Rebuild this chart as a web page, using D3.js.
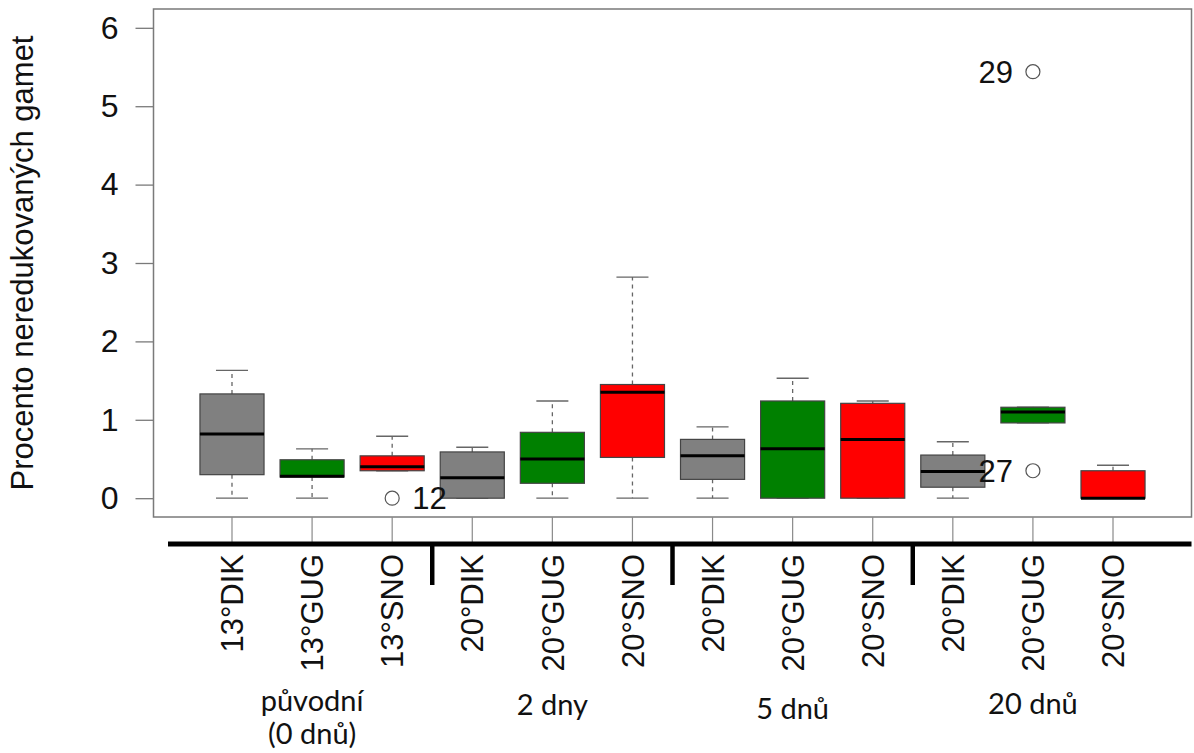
<!DOCTYPE html>
<html>
<head>
<meta charset="utf-8">
<script src="https://cdn.jsdelivr.net/npm/d3@7"></script>
<style>
  html, body { margin: 0; padding: 0; background: #fff; }
  svg { display: block; }
</style>
</head>
<body>
<svg id="chart" width="1194" height="753"></svg>
<script>
// Categories (temperature + population) and their box colours
const categories = ["13°DIK", "13°GUG", "13°SNO", "20°DIK", "20°GUG", "20°SNO",
                    "20°DIK", "20°GUG", "20°SNO", "20°DIK", "20°GUG", "20°SNO"];
const boxColors = ["#808080", "#008000", "#ff0000", "#808080", "#008000", "#ff0000",
                   "#808080", "#008000", "#ff0000", "#808080", "#008000", "#ff0000"];

// Five-number summaries per category (percent of unreduced gametes)
const whiskerLow  = [0.00, 0.00, 0.35, 0.00, 0.00, 0.00, 0.00, 0.00, 0.00, 0.00, 0.96, 0.00];
const quartile1   = [0.30, 0.27, 0.35, 0.00, 0.19, 0.52, 0.24, 0.00, 0.00, 0.14, 0.96, 0.00];
const medians     = [0.82, 0.28, 0.40, 0.26, 0.50, 1.35, 0.54, 0.63, 0.75, 0.34, 1.10, 0.00];
const quartile3   = [1.33, 0.49, 0.54, 0.59, 0.84, 1.45, 0.75, 1.24, 1.21, 0.55, 1.16, 0.35];
const whiskerHigh = [1.63, 0.63, 0.79, 0.65, 1.24, 2.82, 0.91, 1.53, 1.24, 0.72, 1.16, 0.42];

// Outliers: category index (1-based), value, label and label side
const outlierBox   = [3, 11, 11];
const outlierValue = [0.00, 0.35, 5.44];
const outlierLabel = ["12", "27", "29"];
const outlierSide  = ["right", "left", "left"];

// Axis ticks and group captions
const yTicks = [0, 1, 2, 3, 4, 5, 6];
const groupLabels = [["původní", "(0 dnů)"], ["2 dny"], ["5 dnů"], ["20 dnů"]];
const groupCenters = [2, 5, 8, 11];
const groupBaselines = [711, 715, 719, 714];
const groupSeparators = [3.5, 6.5, 9.5];

const svg = d3.select("#chart");

const x = d3.scaleLinear().domain([0.02, 12.98]).range([153.5, 1191.5]);
const y = d3.scaleLinear().domain([-0.24, 6.24]).range([517, 9]);

const boxHalf = 0.4;   // box half-width in category units
const capHalf = 0.2;   // whisker cap half-width

const axisFont = "'Liberation Sans', Arial, Helvetica, sans-serif";

// Plot frame
svg.append("rect")
  .attr("x", x.range()[0]).attr("y", y.range()[1])
  .attr("width", x.range()[1] - x.range()[0])
  .attr("height", y.range()[0] - y.range()[1])
  .attr("fill", "none").attr("stroke", "#7a7a7a").attr("stroke-width", 1.5);

// Y axis
const yAxis = d3.axisLeft(y).tickValues(yTicks).tickSize(18).tickPadding(17)
  .tickFormat(d3.format("d"));
const yg = svg.append("g").attr("transform", `translate(${x.range()[0]},0)`).call(yAxis);
yg.select(".domain").remove();
yg.selectAll(".tick line").attr("stroke", "#7a7a7a").attr("stroke-width", 1.3);
yg.selectAll(".tick text").attr("font-family", axisFont).attr("font-size", 32)
  .attr("fill", "#111");

// Y axis title
svg.append("text")
  .attr("transform", `translate(33,263) rotate(-90)`)
  .attr("text-anchor", "middle")
  .attr("font-family", axisFont).attr("font-size", 31).attr("fill", "#111")
  .text("Procento neredukovaných gamet");

// Category ticks below the frame
const idx = d3.range(1, categories.length + 1);
svg.append("g").selectAll("line").data(idx).join("line")
  .attr("x1", d => x(d)).attr("x2", d => x(d))
  .attr("y1", y.range()[0]).attr("y2", 544)
  .attr("stroke", "#8a8a8a").attr("stroke-width", 1.2);

// Thick baseline under the categories
svg.append("line")
  .attr("x1", 168).attr("x2", x.range()[1])
  .attr("y1", 544).attr("y2", 544)
  .attr("stroke", "#000").attr("stroke-width", 5);

// Group separators
svg.append("g").selectAll("line").data(groupSeparators).join("line")
  .attr("x1", d => x(d)).attr("x2", d => x(d))
  .attr("y1", 544).attr("y2", 585)
  .attr("stroke", "#000").attr("stroke-width", 4.5);

// Rotated category labels
svg.append("g").selectAll("text").data(idx).join("text")
  .attr("transform", d => `translate(${x(d)},554) rotate(-90)`)
  .attr("text-anchor", "end").attr("dy", "0.36em")
  .attr("font-family", axisFont).attr("font-size", 31).attr("fill", "#111")
  .text(d => categories[d - 1]);

// Group captions
groupLabels.forEach((lines, g) => {
  lines.forEach((ln, k) => {
    svg.append("text")
      .attr("text-anchor", "middle")
      .attr("font-family", "Lato, 'Open Sans', sans-serif")
      .attr("font-size", 29).attr("fill", "#111")
      .attr("x", x(groupCenters[g]))
      .attr("y", groupBaselines[g] + k * 33)
      .text(ln);
  });
});

// Boxplots
const boxes = svg.append("g").selectAll("g").data(idx).join("g");

// whisker stems (dashed)
boxes.append("line")
  .attr("x1", d => x(d)).attr("x2", d => x(d))
  .attr("y1", d => y(quartile3[d - 1])).attr("y2", d => y(whiskerHigh[d - 1]))
  .attr("stroke", "#666").attr("stroke-width", 1.3).attr("stroke-dasharray", "4,4");
boxes.append("line")
  .attr("x1", d => x(d)).attr("x2", d => x(d))
  .attr("y1", d => y(quartile1[d - 1])).attr("y2", d => y(whiskerLow[d - 1]))
  .attr("stroke", "#666").attr("stroke-width", 1.3).attr("stroke-dasharray", "4,4");
// caps
boxes.append("line")
  .attr("x1", d => x(d - capHalf)).attr("x2", d => x(d + capHalf))
  .attr("y1", d => y(whiskerHigh[d - 1])).attr("y2", d => y(whiskerHigh[d - 1]))
  .attr("stroke", "#666").attr("stroke-width", 1.3);
boxes.append("line")
  .attr("x1", d => x(d - capHalf)).attr("x2", d => x(d + capHalf))
  .attr("y1", d => y(whiskerLow[d - 1])).attr("y2", d => y(whiskerLow[d - 1]))
  .attr("stroke", "#666").attr("stroke-width", 1.3);
// boxes
boxes.append("rect")
  .attr("x", d => x(d - boxHalf))
  .attr("width", d => x(d + boxHalf) - x(d - boxHalf))
  .attr("y", d => y(quartile3[d - 1]))
  .attr("height", d => y(quartile1[d - 1]) - y(quartile3[d - 1]))
  .attr("fill", d => boxColors[d - 1])
  .attr("stroke", "#444").attr("stroke-width", 1.2);
// medians
boxes.append("line")
  .attr("x1", d => x(d - boxHalf)).attr("x2", d => x(d + boxHalf))
  .attr("y1", d => y(medians[d - 1])).attr("y2", d => y(medians[d - 1]))
  .attr("stroke", "#000").attr("stroke-width", 3);

// Outliers with their labels
const outl = svg.append("g").selectAll("g").data(d3.range(outlierBox.length)).join("g");
outl.append("circle")
  .attr("cx", i => x(outlierBox[i])).attr("cy", i => y(outlierValue[i]))
  .attr("r", 7).attr("fill", "none").attr("stroke", "#555").attr("stroke-width", 1.2);
outl.append("text")
  .attr("x", i => x(outlierBox[i]) + (outlierSide[i] === "right" ? 20 : -20))
  .attr("y", i => y(outlierValue[i]))
  .attr("dy", "0.36em")
  .attr("text-anchor", i => outlierSide[i] === "right" ? "start" : "end")
  .attr("font-family", axisFont).attr("font-size", 31).attr("fill", "#111")
  .text(i => outlierLabel[i]);
</script>
</body>
</html>
